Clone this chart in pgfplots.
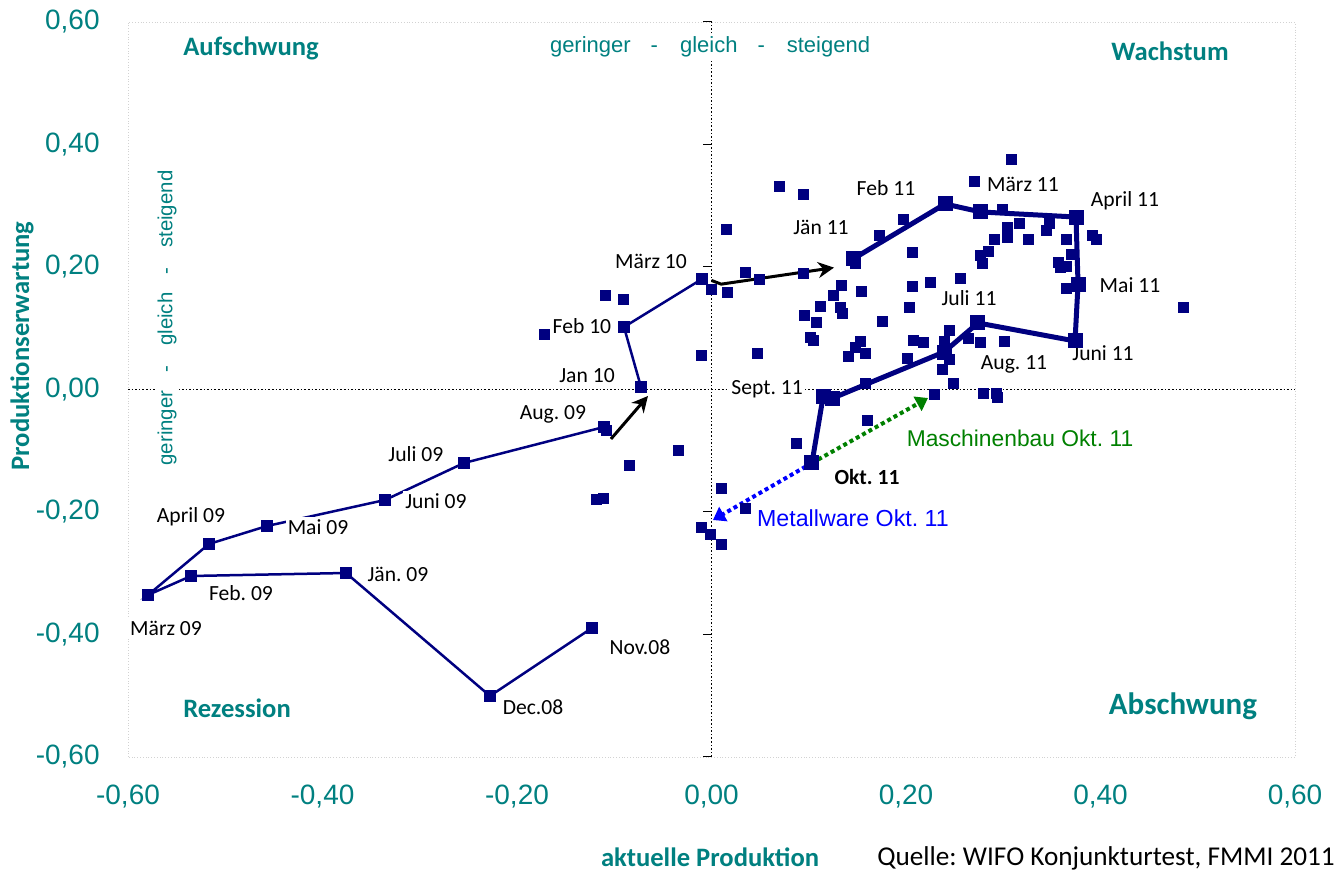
\documentclass[border=0pt]{standalone}
\usepackage{pgfplots}
\pgfplotsset{compat=1.18}
\usepackage{fontspec}
\setmainfont{Carlito}
\newfontfamily\arial{Liberation Sans}
\usetikzlibrary{arrows.meta,calc}
\frenchspacing

\definecolor{wteal}{RGB}{0,128,128}
\definecolor{navy}{RGB}{0,0,128}
\definecolor{mgreen}{RGB}{0,128,0}
\definecolor{mblue}{RGB}{0,0,255}

\tikzset{
    lbl/.style={font=\fontsize{10.8}{13}\selectfont, fill=white, inner sep=1pt},
    quad/.style={font=\bfseries\fontsize{13.3}{15}\selectfont, text=wteal},
    ytk/.style={black, line width=0.5pt},
}

\begin{document}
\begin{tikzpicture}
\begin{axis}[
    scale only axis,
    width=583.5pt, height=367.5pt,
    xmin=-0.6, xmax=0.6, ymin=-0.6, ymax=0.6,
    clip=false,
    axis line style={gray!35, densely dotted},
    major tick length=0pt,
    xtick={-0.6,-0.4,-0.2,0,0.2,0.4,0.6},
    ytick={-0.6,-0.4,-0.2,0,0.2,0.4,0.6},
    xticklabels={{-0,60},{-0,40},{-0,20},{0,00},{0,20},{0,40},{0,60}},
    yticklabels={{-0,60},{-0,40},{-0,20},{0,00},{0,20},{0,40},{0,60}},
    tick label style={font=\arial\fontsize{14}{16}\selectfont, text=wteal},
    xticklabel style={anchor=center, yshift=-20pt},
    yticklabel style={anchor=east, inner sep=0pt, xshift=-14pt},
]
\coordinate (sw) at (rel axis cs:0,0);
\coordinate (ne) at (rel axis cs:1,1);

% Achsen durch den Ursprung
\draw[black, densely dotted, line width=0.8pt] (axis cs:-0.6,0) -- (axis cs:0.6,0);
\draw[black, densely dotted, line width=0.8pt] (axis cs:0,-0.6) -- (axis cs:0,0.6);
\draw[ytk] (axis cs:0,0.6) -- ([xshift=-4.5pt]axis cs:0,0.6);
\draw[ytk] (axis cs:0,0.4) -- ([xshift=-4.5pt]axis cs:0,0.4);
\draw[ytk] (axis cs:0,0.2) -- ([xshift=-4.5pt]axis cs:0,0.2);
\draw[ytk] (axis cs:0,-0.2) -- ([xshift=-4.5pt]axis cs:0,-0.2);
\draw[ytk] (axis cs:0,-0.4) -- ([xshift=-4.5pt]axis cs:0,-0.4);
\draw[ytk] (axis cs:0,-0.6) -- ([xshift=-4.5pt]axis cs:0,-0.6);

% Einzelwerte
\addplot[only marks, mark=square*, mark size=2.5pt, color=navy] coordinates {
(-0.1722,0.0906) (-0.1095,0.1543) (-0.0910,0.1478) (-0.1085,-0.0661)
(-0.0848,-0.1233) (-0.0344,-0.0988) (-0.1188,-0.1788) (-0.1116,-0.1771)
(-0.0108,0.0563) (0.0098,-0.1608) (-0.0108,-0.2245) (-0.0015,-0.2359)
(0.0098,-0.2522) (0.0344,-0.1935) (-0.0005,0.1641) (0.0159,0.1592)
(0.0468,0.0596) (0.0149,0.2620)
(0.3080,0.3763) (0.2699,0.3404) (0.0694,0.3322) (0.0941,0.3192)
(0.1969,0.2784) (0.2987,0.2947) (0.1722,0.2522) (0.3039,0.2653)
(0.3039,0.2490) (0.3162,0.2718) (0.3471,0.2718) (0.3440,0.2604)
(0.2905,0.2457) (0.3255,0.2457) (0.3645,0.2457) (0.3913,0.2522)
(0.3954,0.2457) (0.2062,0.2245) (0.2761,0.2196) (0.2843,0.2261)
(0.2782,0.2065) (0.3697,0.2212) (0.3563,0.2082) (0.3584,0.2000)
(0.3645,0.2016) (0.3645,0.1657) (0.1476,0.2065) (0.0344,0.1918)
(0.0488,0.1804) (0.0941,0.1902) (0.1332,0.1706) (0.1249,0.1543)
(0.1537,0.1608) (0.2062,0.1690) (0.2247,0.1755) (0.2555,0.1820)
(0.1116,0.1363) (0.1321,0.1347) (0.1342,0.1249) (0.0951,0.1216)
(0.1075,0.1102) (0.2031,0.1347) (0.1753,0.1118) (0.2442,0.0971)
(0.1013,0.0857) (0.1044,0.0808) (0.1527,0.0792) (0.1476,0.0694)
(0.1578,0.0596) (0.1404,0.0547) (0.2072,0.0808) (0.2175,0.0776)
(0.2391,0.0792) (0.2638,0.0841) (0.2761,0.0776) (0.3008,0.0792)
(0.2010,0.0514) (0.2442,0.0498) (0.2370,0.0335) (0.2483,0.0106)
(0.1578,0.0106) (0.2792,-0.0057) (0.2925,-0.0057) (0.2936,-0.0122)
(0.2288,-0.0073) (0.1599,-0.0498) (0.0869,-0.0873) (0.4848,0.1347)
};

% Verlauf Nov. 08 - Maerz 10
\addplot[navy, line width=1.25pt, mark=square*, mark size=2.5pt] coordinates {
(-0.1229,-0.3894) (-0.2278,-0.5004) (-0.3758,-0.2996) (-0.5352,-0.3045)
(-0.5794,-0.3355) (-0.5167,-0.2522) (-0.4571,-0.2229) (-0.3357,-0.1804)
(-0.2545,-0.1200) (-0.1105,-0.0612)
};
\addplot[navy, line width=1.25pt, mark=square*, mark size=2.5pt] coordinates {
(-0.0725,0.0041) (-0.0900,0.1020) (-0.0098,0.1804)
};

% Verlauf Jaen. 11 - Okt. 11
\addplot[navy, line width=2.5pt, mark=square*, mark size=2.5pt] coordinates {
(0.1455,0.2131) (0.2401,0.3029) (0.2771,0.2898) (0.3748,0.2816)
(0.3769,0.1722) (0.3738,0.0792) (0.2740,0.1086) (0.2391,0.0612)
(0.1249,-0.0139) (0.1147,-0.0122) (0.1033,-0.1200)
};

% Pfeile
\addplot[black, line width=1.5pt, no marks, -{Stealth[length=8pt,width=8pt]}] coordinates {
(0.0,0.178) (0.010,0.172) (0.126,0.199)
};
\addplot[black, line width=1.5pt, no marks, -{Stealth[length=8pt,width=8pt]}] coordinates {
(-0.1034,-0.0808) (-0.0653,-0.0106)
};
\addplot[mgreen, line width=2pt, no marks, dash pattern=on 2pt off 1.6pt,
    -{Triangle[length=6pt,width=8pt]}] coordinates {
(0.1033,-0.1200) (0.2226,-0.0139)
};
\addplot[mblue, line width=2pt, no marks, dash pattern=on 2pt off 1.6pt,
    -{Triangle[length=6pt,width=8pt]}] coordinates {
(0.1033,-0.1200) (0.0015,-0.2131)
};

% Beschriftungen
\node[lbl] at (axis cs:-0.0735,-0.4204) {Nov.08};
\node[lbl] at (axis cs:-0.1835,-0.5184) {Dec.08};
\node[lbl] at (axis cs:-0.3224,-0.3012) {Jän. 09};
\node[lbl] at (axis cs:-0.4838,-0.3322) {Feb. 09};
\node[lbl] at (axis cs:-0.5609,-0.3894) {März 09};
\node[lbl] at (axis cs:-0.5352,-0.2082) {April 09};
\node[lbl] at (axis cs:-0.4046,-0.2245) {Mai 09};
\node[lbl] at (axis cs:-0.2833,-0.1820) {Juni 09};
\node[lbl] at (axis cs:-0.3039,-0.1053) {Juli 09};
\node[lbl] at (axis cs:-0.1630,-0.0400) {Aug. 09};
\node[lbl] at (axis cs:-0.1280,0.0220) {Jan 10};
\node[lbl] at (axis cs:-0.1332,0.1037) {Feb 10};
\node[lbl] at (axis cs:-0.0622,0.2098) {März 10};
\node[lbl] at (axis cs:0.1126,0.2653) {Jän 11};
\node[lbl] at (axis cs:0.1794,0.3290) {Feb 11};
\node[lbl] at (axis cs:0.3203,0.3355) {März 11};
\node[lbl] at (axis cs:0.4252,0.3078) {April 11};
\node[lbl] at (axis cs:0.4303,0.1706) {Mai 11};
\node[lbl] at (axis cs:0.4026,0.0596) {Juni 11};
\node[lbl] at (axis cs:0.2648,0.1494) {Juli 11};
\node[lbl] at (axis cs:0.3111,0.0416) {Aug. 11};
\node[lbl] at (axis cs:0.0571,0.0008) {Sept. 11};
\node[lbl, font=\bfseries\fontsize{10.8}{13}\selectfont] at (axis cs:0.1599,-0.1429) {Okt. 11};
\node[font=\arial\fontsize{11.4}{13}\selectfont, text=mgreen] at (axis cs:0.3172,-0.0792) {Maschinenbau Okt. 11};
\node[font=\arial\fontsize{11.6}{13}\selectfont, text=mblue] at (axis cs:0.1455,-0.2098) {Metallware Okt. 11};

% Quadranten
\node[quad] at (axis cs:-0.4735,0.5576) {Aufschwung};
\node[quad] at (axis cs:0.4715,0.5527) {Wachstum};
\node[quad] at (axis cs:-0.4879,-0.5200) {Rezession};
\node[quad, font=\bfseries\fontsize{15.5}{17}\selectfont] at (axis cs:0.4848,-0.5167) {Abschwung};
\node[font=\arial\fontsize{11}{13}\selectfont, text=wteal, fill=white, inner sep=1pt] at (axis cs:-0.0015,0.5592)
    {geringer\hspace{10pt}-\hspace{11pt}gleich\hspace{10pt}-\hspace{11pt}steigend};
\node[font=\arial\fontsize{10.2}{12}\selectfont, text=wteal, fill=white, inner sep=1pt, rotate=90] at (axis cs:-0.5599,0.1167)
    {geringer\hspace{9pt}-\hspace{10pt}gleich\hspace{9pt}-\hspace{10pt}steigend};

% Achsentitel und Quelle
\node[font=\bfseries\fontsize{13.3}{15}\selectfont, text=wteal, rotate=90] at (axis cs:-0.709,0.071) {Produktionserwartung};
\node[font=\bfseries\fontsize{13.3}{15}\selectfont, text=wteal] at (axis cs:-0.0015,-0.763) {aktuelle Produktion};
\node[font=\fontsize{13.6}{15}\selectfont] at (axis cs:0.4057,-0.765) {Quelle: WIFO Konjunkturtest, FMMI 2011};
\end{axis}
\pgfresetboundingbox
\path[use as bounding box] ($(sw)+(-64pt,-56.5pt)$) rectangle ($(ne)+(22pt,11pt)$);
\end{tikzpicture}
\end{document}
